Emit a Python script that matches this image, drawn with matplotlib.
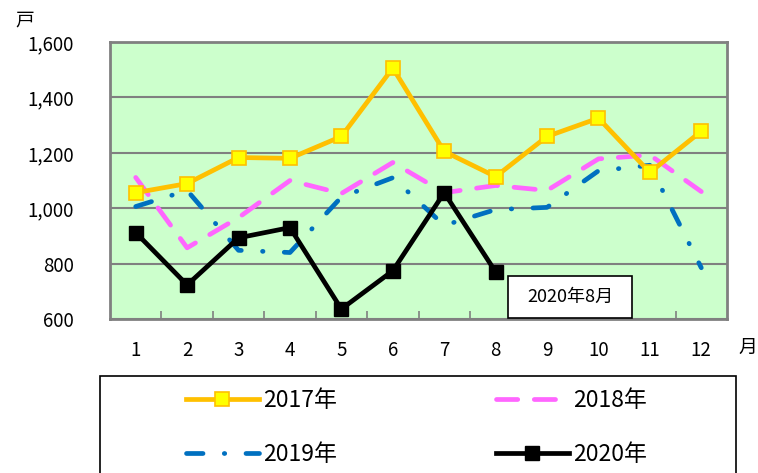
import matplotlib
matplotlib.use('Agg')
import matplotlib.pyplot as plt
from matplotlib.patches import Rectangle
from matplotlib.ticker import FuncFormatter

plt.rcParams['font.family'] = ['Noto Sans CJK JP', 'DejaVu Sans']

# monthly counts (units: 戸)
months = list(range(1, 13))
month_labels = [str(m) for m in months]
y2017 = [1056, 1089, 1183, 1180, 1259, 1506, 1205, 1114, 1259, 1325, 1129, 1278]
y2018 = [1111, 857, 966, 1100, 1053, 1165, 1056, 1082, 1064, 1178, 1192, 1060]
y2019 = [1006, 1064, 848, 840, 1040, 1110, 938, 995, 1003, 1135, 1155, 785]
y2020 = [912, 723, 893, 930, 636, 774, 1056, 770]
yticks = [600, 800, 1000, 1200, 1400, 1600]
series_names = ['2017年', '2018年', '2019年', '2020年']
note_text = '2020年8月'

fig = plt.figure(figsize=(7.58, 4.73), dpi=100)
ax = fig.add_axes([110 / 758, 1 - 319 / 473, 617 / 758, 277 / 473])
ax.set_facecolor('#CCFFCC')

l17, = ax.plot(months, y2017, color='#FFC000', lw=3.4, marker='s', ms=10,
               mfc='#FFFF00', mec='#FFC000', mew=1.2, zorder=4)
l18, = ax.plot(months, y2018, color='#FF66FF', lw=3.4, dashes=(4.5, 3.5),
               dash_capstyle='round', zorder=3)
l19, = ax.plot(months, y2019, color='#0070C0', lw=3.4, dashes=(3.5, 4.5, 0.1, 4.5),
               dash_capstyle='round', zorder=3)
l20, = ax.plot(months[:len(y2020)], y2020, color='black', lw=3.4, marker='s',
               ms=10, mfc='black', mec='black', zorder=5)

ax.set_xlim(0.5, 12.5)
ax.set_ylim(600, 1600)
ax.set_yticks(yticks)
ax.yaxis.set_major_formatter(FuncFormatter(lambda v, p: f'{int(v):,}'))
ax.grid(axis='y', color='#808080', lw=1.5)
ax.set_axisbelow(True)
for s in ax.spines.values():
    s.set_color('#808080')
    s.set_linewidth(2)

# category boundaries as inward ticks, labels centred on months
ax.set_xticks([m + 0.5 for m in months[:-1]])
ax.set_xticklabels([])
ax.tick_params(axis='x', which='major', direction='in', length=6, color='#808080', width=1.2)
ax.set_xticks(months, minor=True)
ax.set_xticklabels(month_labels, minor=True)
ax.tick_params(axis='x', which='minor', length=0, pad=15, labelsize=13.5)
ax.tick_params(axis='y', length=0, pad=26, labelsize=13.5)

fig.text(25 / 758, 1 - 20 / 473, '戸', fontsize=13.5, ha='center', va='center')
fig.text(748 / 758, 1 - 347 / 473, '月', fontsize=13.5, ha='center', va='center')

# annotation box
ax.add_patch(Rectangle((8.24, 603), 2.41, 152, facecolor='white',
                       edgecolor='black', lw=1.2, zorder=6))
ax.text(9.445, 679, note_text, fontsize=13, ha='center', va='center', zorder=7)

# legend frame (bottom edge runs off the figure)
fig.patches.append(Rectangle((100 / 758, -0.05), 636 / 758, 0.05 + 1 - 376 / 473,
                             transform=fig.transFigure, facecolor='white',
                             edgecolor='black', lw=1.2))
# legend fills row by row: 2017, 2018 / 2019, 2020
leg = fig.legend([l17, l19, l18, l20],
                 [series_names[0], series_names[2], series_names[1], series_names[3]],
                 ncol=2, frameon=False,
                 loc='upper left', bbox_to_anchor=(165 / 758, 1 - 368 / 473),
                 fontsize=16.5, handlelength=3.2, handletextpad=0.2,
                 columnspacing=6.9, labelspacing=1.35)

fig.savefig('out.png', dpi=100)
